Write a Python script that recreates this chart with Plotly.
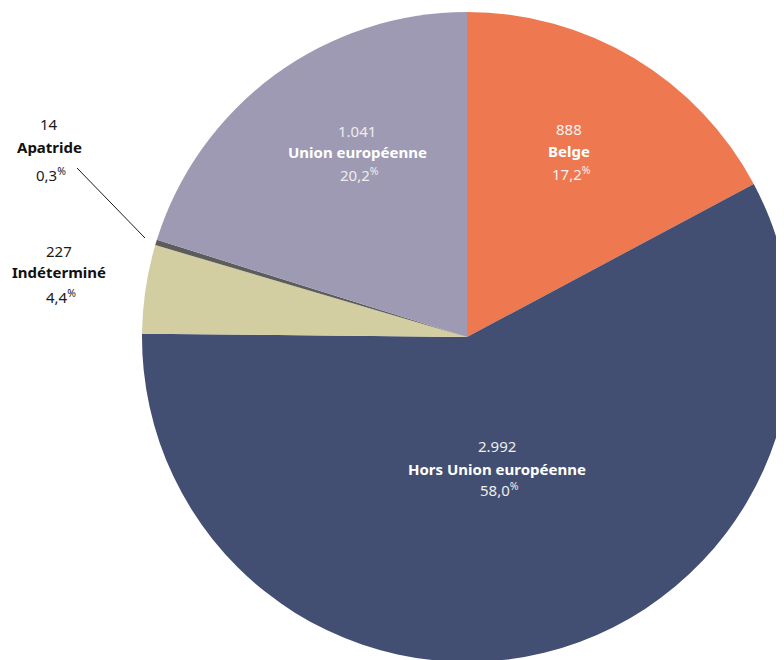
import plotly.graph_objects as go

categories = ["Belge", "Hors Union européenne", "Indéterminé", "Apatride", "Union européenne"]
values = [888, 2992, 227, 14, 1041]
value_labels = ["888", "2.992", "227", "14", "1.041"]
pct_labels = ["17,2", "58,0", "4,4", "0,3", "20,2"]
colors = ["#EE784F", "#434F72", "#D3CDA2", "#5C5C5C", "#9E9AB3"]

# figure is larger than the window; the page body adds an 8px margin
W, H = 800, 680
OFF = 8
FONT = "Noto Sans"


def px(x, y):
    """window pixel -> paper coords"""
    return (x - OFF) / W, 1 - (y - OFF) / H


# pie circle in window pixels: centre (467, 337), radius 325
cx, cy, r = 467, 337, 325
dx0, dy0 = px(cx - r, cy + r)
dx1, dy1 = px(cx + r, cy - r)

fig = go.Figure(go.Pie(
    labels=categories,
    values=values,
    sort=False,
    direction="clockwise",
    rotation=0,
    marker=dict(colors=colors, line=dict(width=0)),
    textinfo="none",
    hoverinfo="label+value+percent",
    domain=dict(x=[dx0, dx1], y=[dy0, dy1]),
    showlegend=False,
))

# label line centres (window pixels): x, y_number, y_name, y_pct, colours
label_pos = {
    "Belge": (569, 129, 151, 173, "#F3F3F3", "#FFFFFF"),
    "Hors Union européenne": (497, 446, 469, 489, "#EDEDED", "#FFFFFF"),
    "Union européenne": (357, 131, 152, 174, "#EDEDED", "#FFFFFF"),
    "Indéterminé": (59, 251, 272, 296, "#1A1A1A", "#111111"),
    "Apatride": (49, 124, 147, 174, "#1A1A1A", "#111111"),
}

annotations = []
for cat, vl, pl in zip(categories, value_labels, pct_labels):
    x, yn, yc, yp, col, bcol = label_pos[cat]
    for txt, yy, c, extra in (
        (vl, yn, col, 0),
        (f"<b>{cat}</b>", yc, bcol, 0),
        (f"{pl}<sup>%</sup>", yp, col, 2),
    ):
        ax, ay = px(x + extra, yy)
        annotations.append(dict(
            x=ax, y=ay, xref="paper", yref="paper",
            text=txt, showarrow=False, align="center",
            xanchor="center", yanchor="middle",
            font=dict(family=FONT, size=15, color=c),
        ))

x0, y0 = px(77, 168)
x1, y1 = px(145, 238)
shapes = [dict(type="line", xref="paper", yref="paper", x0=x0, y0=y0, x1=x1, y1=y1,
               line=dict(color="#1A1A1A", width=1))]

fig.update_layout(
    width=W, height=H,
    margin=dict(l=0, r=0, t=0, b=0),
    paper_bgcolor="white",
    plot_bgcolor="white",
    annotations=annotations,
    shapes=shapes,
    font=dict(family=FONT),
)

fig.write_html("out.html")
